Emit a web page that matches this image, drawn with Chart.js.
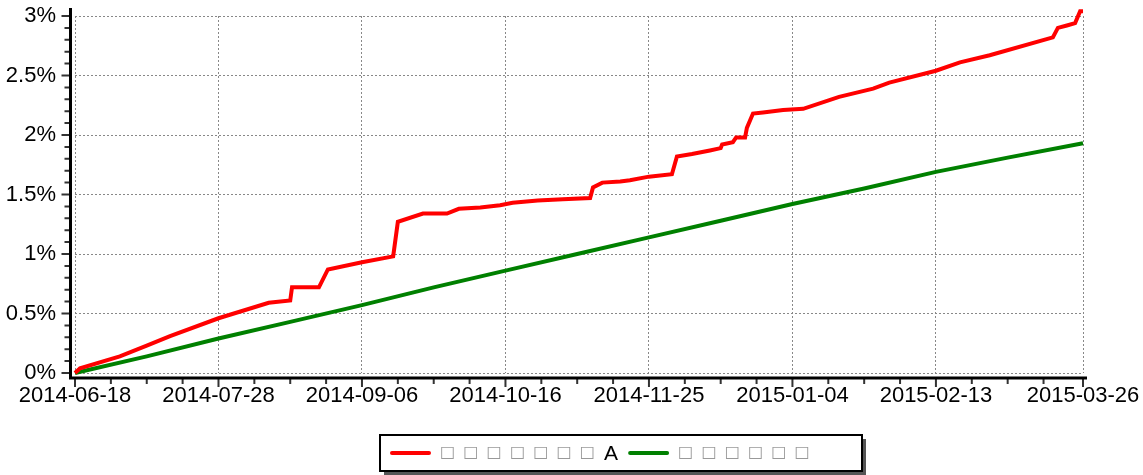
<!DOCTYPE html>
<html>
<head>
<meta charset="utf-8">
<script src="https://cdn.jsdelivr.net/npm/chart.js@4/dist/chart.umd.min.js"></script>
<style>
html, body { margin: 0; padding: 0; background: #fff; }
</style>
</head>
<body>
<canvas id="chart" width="1143" height="475"></canvas>
<script>
// x axis is days since 2014-06-18
var tickDays = [0, 40, 80, 120, 160, 200, 240, 281];
var tickLabels = ['2014-06-18', '2014-07-28', '2014-09-06', '2014-10-16', '2014-11-25', '2015-01-04', '2015-02-13', '2015-03-26'];

var seriesNames = ['□□□□□□□A', '□□□□□□'];

var redDays = [0, 1.4, 12.5, 20, 26.5, 40, 54, 60, 60.5, 68, 70.5, 80, 88.7, 90, 97, 103.7, 107, 113, 118.5, 122, 129, 136, 143.6, 144.4, 147, 152, 154.7, 160, 166.4, 167.8, 172, 177, 180, 180.4, 183.4, 184.3, 186.8, 187.3, 189, 191.8, 197.4, 203, 213, 222.5, 227, 240, 246.7, 255, 272.6, 274, 276.5, 278.8, 280.2, 281];
var redValues = [0, 0.04, 0.14, 0.23, 0.31, 0.46, 0.59, 0.61, 0.72, 0.72, 0.87, 0.93, 0.98, 1.27, 1.34, 1.34, 1.38, 1.39, 1.41, 1.43, 1.45, 1.46, 1.47, 1.56, 1.60, 1.61, 1.62, 1.65, 1.67, 1.82, 1.84, 1.87, 1.89, 1.92, 1.94, 1.98, 1.98, 2.06, 2.18, 2.19, 2.21, 2.22, 2.32, 2.39, 2.44, 2.54, 2.61, 2.67, 2.82, 2.90, 2.92, 2.94, 3.04, 3.04];

var greenDays = [0, 20, 40, 60, 80, 100, 120, 140, 160, 180, 200, 220, 240, 260, 281];
var greenValues = [0, 0.14, 0.29, 0.43, 0.57, 0.72, 0.86, 1.00, 1.14, 1.28, 1.42, 1.55, 1.69, 1.81, 1.93];

function toPoints(days, values) {
    return days.map(function (d, i) { return { x: d, y: values[i] }; });
}

var labelFont = { family: "'Liberation Sans', Arial, sans-serif", size: 22 };

// axis lines and minor ticks, drawn a few pixels outside the plot area
var axesPlugin = {
    id: 'axesPlugin',
    afterDraw: function (chart) {
        var ctx = chart.ctx;
        var area = chart.chartArea;
        var xs = chart.scales.x;
        var ys = chart.scales.y;
        var ax = area.left - 4.5;
        var ay = area.bottom + 5;
        ctx.save();
        ctx.strokeStyle = '#333';
        ctx.lineWidth = 2;
        ctx.beginPath();
        for (var d = 0; d <= 281; d += 10) {
            var major = tickDays.indexOf(d) >= 0;
            if (!major && (d % 40 === 0 || d > 275)) continue;
            var px = xs.getPixelForValue(d);
            ctx.moveTo(px, ay);
            ctx.lineTo(px, ay + (major ? 9 : 6));
        }
        var px2 = xs.getPixelForValue(281);
        ctx.moveTo(px2, ay);
        ctx.lineTo(px2, ay + 9);
        for (var k = 0; k <= 30; k++) {
            var py = ys.getPixelForValue(k / 10);
            var maj = k % 5 === 0;
            ctx.moveTo(ax, py);
            ctx.lineTo(ax - (maj ? 9 : 6), py);
        }
        ctx.stroke();
        ctx.strokeStyle = '#000';
        ctx.lineWidth = 3;
        ctx.beginPath();
        ctx.moveTo(ax, area.top - 8);
        ctx.lineTo(ax, ay + 1.5);
        ctx.moveTo(ax - 1.5, ay);
        ctx.lineTo(area.right + 4, ay);
        ctx.stroke();
        ctx.restore();
    }
};

// boxed legend under the chart
var legendPlugin = {
    id: 'boxLegend',
    afterDraw: function (chart, args, opts) {
        var ctx = chart.ctx;
        var left = opts.left, top = opts.top, w = opts.width, h = opts.height;
        var cy = top + h / 2;
        ctx.save();
        ctx.fillStyle = '#555';
        ctx.fillRect(left + 4, top + 4, w, h);
        ctx.fillStyle = '#fff';
        ctx.fillRect(left, top, w, h);
        ctx.strokeStyle = '#000';
        ctx.lineWidth = 2;
        ctx.strokeRect(left, top, w, h);
        var x = left + 10;
        ctx.textBaseline = 'middle';
        chart.data.datasets.forEach(function (ds) {
            ctx.strokeStyle = ds.borderColor;
            ctx.lineWidth = 4;
            ctx.lineCap = 'round';
            ctx.beginPath();
            ctx.moveTo(x + 2, cy);
            ctx.lineTo(x + 39, cy);
            ctx.stroke();
            x += 51;
            Array.from(ds.label).forEach(function (ch) {
                if (ch === '□') {
                    ctx.font = "16px 'DejaVu Sans'";
                    ctx.fillStyle = '#999';
                    ctx.fillText(ch, x - 1, cy);
                    x += 23.3;
                } else {
                    ctx.font = "21px 'Liberation Sans', Arial";
                    ctx.fillStyle = '#000';
                    ctx.fillText(ch, x, cy + 1);
                    x += ctx.measureText(ch).width + 10;
                }
            });
        });
        ctx.restore();
    }
};

new Chart(document.getElementById('chart'), {
    type: 'line',
    data: {
        datasets: [{
            label: seriesNames[0],
            data: toPoints(redDays, redValues),
            borderColor: '#ff0000',
            borderWidth: 4,
            pointRadius: 0,
            tension: 0,
            clip: false
        }, {
            label: seriesNames[1],
            data: toPoints(greenDays, greenValues),
            borderColor: '#008000',
            borderWidth: 4,
            pointRadius: 0,
            tension: 0,
            clip: false
        }]
    },
    options: {
        responsive: false,
        animation: false,
        layout: { padding: { left: 0, right: 60, top: 16, bottom: 0 } },
        plugins: {
            legend: { display: false },
            tooltip: { enabled: false },
            boxLegend: { left: 380, top: 435, width: 482, height: 36 }
        },
        scales: {
            x: {
                type: 'linear',
                min: 0,
                max: 281,
                afterBuildTicks: function (axis) {
                    axis.ticks = tickDays.map(function (d) { return { value: d }; });
                },
                afterFit: function (axis) {
                    axis.height = 102;
                    axis.paddingLeft = 0;
                    axis.paddingRight = 0;
                },
                ticks: {
                    autoSkip: false,
                    maxRotation: 0,
                    padding: 10,
                    color: '#000',
                    font: labelFont,
                    callback: function (v, i) { return tickLabels[i]; }
                },
                grid: { color: '#888', lineWidth: 1, drawTicks: false },
                border: { display: false, dash: [2, 2] }
            },
            y: {
                min: 0,
                max: 3,
                afterFit: function (axis) {
                    axis.width = 75;
                    axis.paddingTop = 0;
                    axis.paddingBottom = 0;
                },
                ticks: {
                    stepSize: 0.5,
                    padding: 19,
                    color: '#000',
                    font: labelFont,
                    callback: function (v) { return v + '%'; }
                },
                grid: { color: '#888', lineWidth: 1, drawTicks: false },
                border: { display: false, dash: [2, 2] }
            }
        }
    },
    plugins: [axesPlugin, legendPlugin]
});
</script>
</body>
</html>
